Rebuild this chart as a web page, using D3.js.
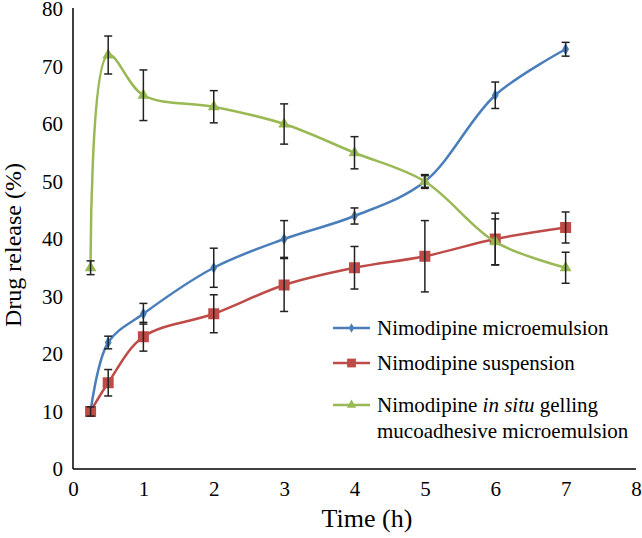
<!DOCTYPE html>
<html>
<head>
<meta charset="utf-8">
<script src="https://cdn.jsdelivr.net/npm/d3@7"></script>
<style>
  html, body { margin: 0; padding: 0; background: #fff; }
  svg { display: block; }
  text { font-family: "Liberation Serif", "Times New Roman", serif; fill: #000; }
</style>
</head>
<body>
<svg id="chart" width="642" height="538"></svg>
<script>
// ---- data ----
const times = [0.25, 0.5, 1, 2, 3, 4, 5, 6, 7];
const microemulsion = [10, 22, 27, 35, 40, 44, 50, 65, 73];
const microemulsionErr = [0.5, 1.1, 1.8, 3.4, 3.2, 1.4, 1.2, 2.3, 1.2];
const suspension = [10, 15, 23, 27, 32, 35, 37, 40, 42];
const suspensionErr = [0.8, 2.3, 2.5, 3.3, 4.6, 3.7, 6.2, 4.5, 2.7];
const insitu = [35, 72, 65, 63, 60, 55, 50, 39.5, 35];
const insituErr = [1.2, 3.3, 4.4, 2.8, 3.5, 2.8, 1.0, 4.0, 2.7];
const xTicks = [0, 1, 2, 3, 4, 5, 6, 7, 8];
const yTicks = [0, 10, 20, 30, 40, 50, 60, 70, 80];
const seriesNames = ["Nimodipine microemulsion", "Nimodipine suspension", "Nimodipine in situ gelling mucoadhesive microemulsion"];

const svg = d3.select("#chart");
const x = d3.scaleLinear().domain([0, 8]).range([73, 636]);
const y = d3.scaleLinear().domain([0, 80]).range([469, 9]);

// axes
const xAxis = d3.axisBottom(x).tickValues(xTicks).tickSize(0).tickPadding(12).tickFormat(d3.format("d"));
const gx = svg.append("g").attr("transform", "translate(0,469)").call(xAxis);
gx.select(".domain").attr("stroke", "#000").attr("stroke-width", 1.5).attr("d", "M73,0H636");
gx.selectAll("text").style("font-size", "21px").style("font-family", "Liberation Serif, serif");

const yAxis = d3.axisLeft(y).tickValues(yTicks).tickSize(0).tickPadding(10).tickFormat(d3.format("d"));
const gy = svg.append("g").attr("transform", "translate(73,0)").call(yAxis);
gy.select(".domain").attr("stroke", "#000").attr("stroke-width", 1.5).attr("d", "M0,469V8");
gy.selectAll("text").style("font-size", "21px").style("font-family", "Liberation Serif, serif");

// titles
svg.append("text").attr("x", 367).attr("y", 527).attr("text-anchor", "middle")
  .style("font-size", "26px").text("Time (h)");
svg.append("text").attr("transform", "translate(21,245) rotate(-90)").attr("text-anchor", "middle")
  .style("font-size", "24px").text("Drug release (%)");

const series = [
  { vals: microemulsion, err: microemulsionErr, color: "#4A7EBB", marker: "diamond" },
  { vals: suspension, err: suspensionErr, color: "#BE4B48", marker: "square" },
  { vals: insitu, err: insituErr, color: "#98B954", marker: "triangle" }
];

const line = d3.line().x(d => x(d[0])).y(d => y(d[1])).curve(d3.curveCatmullRom.alpha(0.5));

function markerPath(type) {
  if (type === "diamond") return d3.symbol(d3.symbolDiamond, 40)();
  if (type === "square") return d3.symbol(d3.symbolSquare, 121)();
  return d3.symbol(d3.symbolTriangle, 60)();
}

series.forEach(s => {
  const pts = times.map((t, i) => [t, s.vals[i]]);
  const g = svg.append("g");
  g.append("path").datum(pts).attr("d", line).attr("fill", "none")
    .attr("stroke", s.color).attr("stroke-width", 2.5);
  g.selectAll("path.m").data(pts).enter().append("path").attr("class", "m")
    .attr("d", markerPath(s.marker))
    .attr("transform", d => `translate(${x(d[0])},${y(d[1])})`)
    .attr("fill", s.color);
  // error bars
  const eb = g.selectAll("g.eb").data(times.map((t, i) => [t, s.vals[i], s.err[i]])).enter().append("g");
  eb.append("line").attr("x1", d => x(d[0])).attr("x2", d => x(d[0]))
    .attr("y1", d => y(d[1] - d[2])).attr("y2", d => y(d[1] + d[2]))
    .attr("stroke", "#222").attr("stroke-width", 1.5);
  [-1, 1].forEach(sg => {
    eb.append("line").attr("x1", d => x(d[0]) - 4).attr("x2", d => x(d[0]) + 4)
      .attr("y1", d => y(d[1] + sg * d[2])).attr("y2", d => y(d[1] + sg * d[2]))
      .attr("stroke", "#222").attr("stroke-width", 1.5);
  });
});

// legend
const legendRows = [
  { y: 328, s: series[0], lines: [[{ t: "Nimodipine microemulsion" }]] },
  { y: 363, s: series[1], lines: [[{ t: "Nimodipine suspension" }]] },
  { y: 405, s: series[2], lines: [[{ t: "Nimodipine " }, { t: "in situ", i: true }, { t: " gelling" }], [{ t: "mucoadhesive microemulsion" }]] }
];
legendRows.forEach(r => {
  const g = svg.append("g");
  g.append("line").attr("x1", 333).attr("x2", 370).attr("y1", r.y).attr("y2", r.y)
    .attr("stroke", r.s.color).attr("stroke-width", 2.5);
  g.append("path").attr("d", markerPath(r.s.marker))
    .attr("transform", `translate(351.5,${r.y}) scale(0.8)`).attr("fill", r.s.color);
  r.lines.forEach((ln, li) => {
    const t = g.append("text").attr("x", 377).attr("y", r.y + 7 + li * 26).style("font-size", "21px");
    ln.forEach(part => {
      const ts = t.append("tspan").text(part.t);
      if (part.i) ts.style("font-style", "italic");
    });
  });
});
</script>
</body>
</html>
